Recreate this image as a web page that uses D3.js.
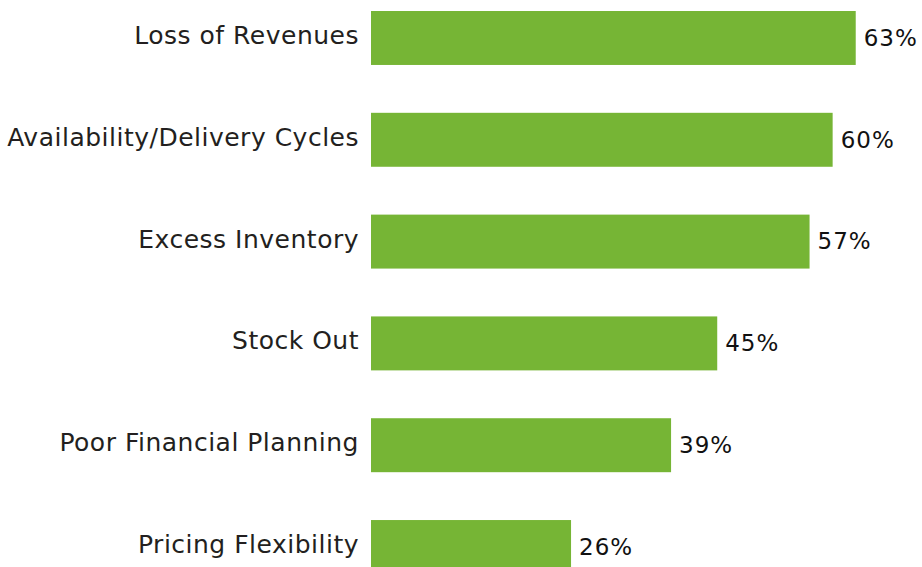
<!DOCTYPE html>
<html>
<head>
<meta charset="utf-8">
<script src="https://cdn.jsdelivr.net/npm/d3@7"></script>
<style>
  html, body { margin: 0; padding: 0; background: #fff; overflow: hidden; }
  svg { display: block; }
</style>
</head>
<body>
<svg id="chart" width="922" height="567"></svg>
<script>
const categories = [
  "Loss of Revenues",
  "Availability/Delivery Cycles",
  "Excess Inventory",
  "Stock Out",
  "Poor Financial Planning",
  "Pricing Flexibility"
];
const values = [63, 60, 57, 45, 39, 26];

const svg = d3.select("#chart");
const x = d3.scaleLinear().domain([0, 100]).range([371, 371 + 769.4]);
const y = d3.scaleBand().domain(categories).range([11, 574]).paddingInner(0.47).paddingOuter(0);

const data = categories.map((c, i) => ({ c, v: values[i] }));

svg.selectAll("rect.bar").data(data).enter().append("rect")
  .attr("class", "bar")
  .attr("x", x(0))
  .attr("y", d => y(d.c))
  .attr("width", d => x(d.v) - x(0))
  .attr("height", y.bandwidth())
  .attr("fill", "#76b535");

svg.selectAll("text.cat").data(data).enter().append("text")
  .attr("class", "cat")
  .attr("x", x(0) - 12)
  .attr("y", d => y(d.c) + y.bandwidth() / 2 - 3)
  .attr("dy", "0.36em")
  .attr("text-anchor", "end")
  .attr("font-family", "DejaVu Sans, Verdana, sans-serif")
  .attr("font-size", 25)
  .attr("letter-spacing", "0.5px")
  .attr("fill", "#231f20")
  .text(d => d.c);

svg.selectAll("text.val").data(data).enter().append("text")
  .attr("class", "val")
  .attr("x", d => x(d.v) + 8)
  .attr("y", d => y(d.c) + y.bandwidth() / 2)
  .attr("dy", "0.34em")
  .attr("text-anchor", "start")
  .attr("font-family", "DejaVu Sans, Verdana, sans-serif")
  .attr("font-size", 23)
  .attr("letter-spacing", "1px")
  .attr("fill", "#111")
  .text(d => d.v + "%");
</script>
</body>
</html>
